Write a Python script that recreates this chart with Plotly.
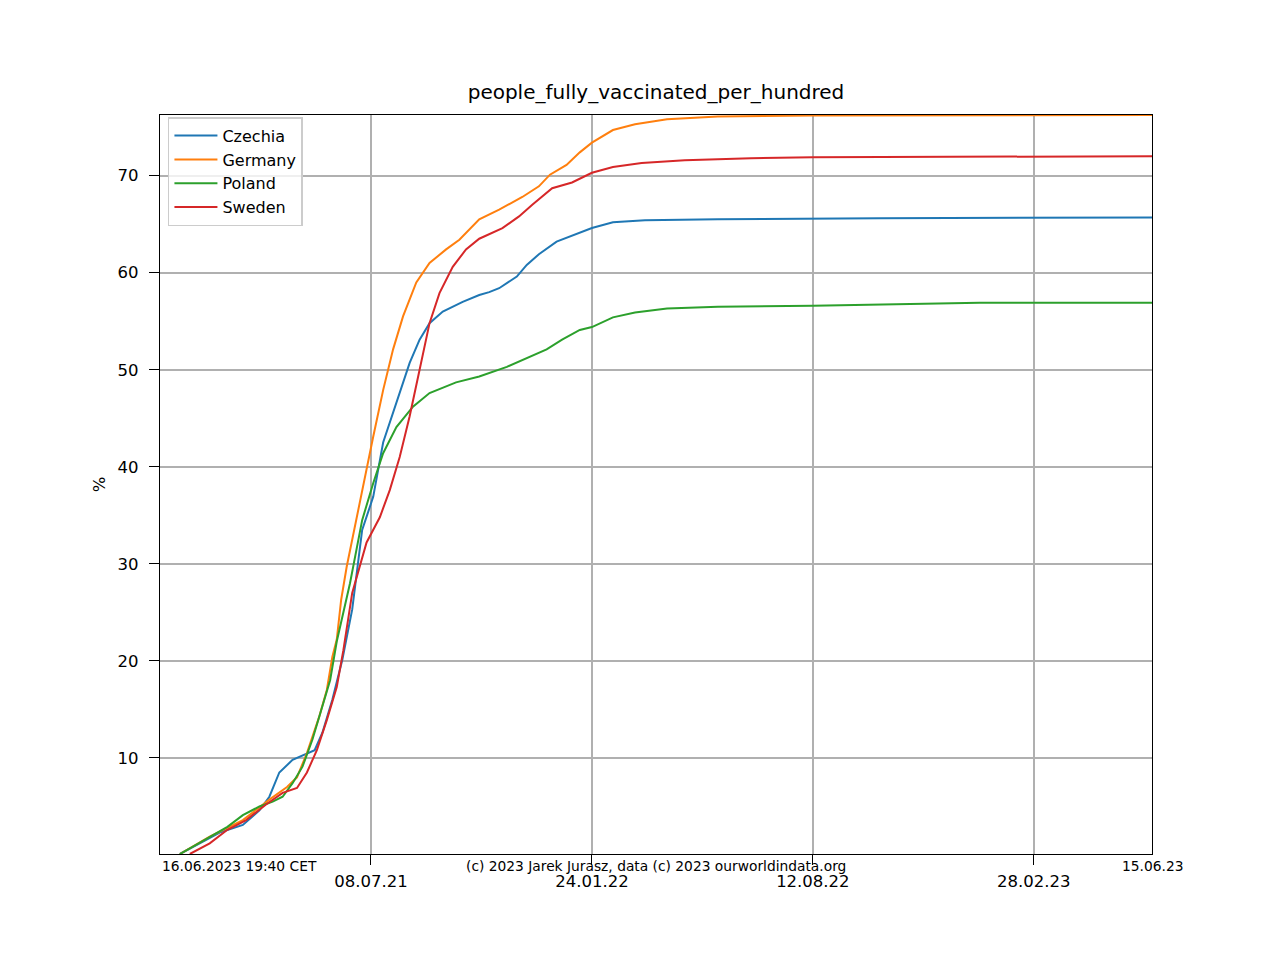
import plotly.graph_objects as go

TITLE = "people_fully_vaccinated_per_hundred"

cz_dates = ["2021-01-16", "2021-02-03", "2021-02-21", "2021-03-14", "2021-03-29", "2021-04-07",
            "2021-04-16", "2021-04-28", "2021-05-11", "2021-05-18", "2021-05-25", "2021-06-03",
            "2021-06-12", "2021-06-21", "2021-06-30", "2021-07-10", "2021-07-19", "2021-07-31",
            "2021-08-12", "2021-08-21", "2021-08-30", "2021-09-11", "2021-09-29", "2021-10-14",
            "2021-10-23", "2021-11-01", "2021-11-17", "2021-11-26", "2021-12-07", "2021-12-23",
            "2022-01-04", "2022-01-24", "2022-02-12", "2022-03-13", "2022-05-18", "2022-08-12",
            "2022-10-11", "2023-06-15"]
cz_vals = [0.1, 1.2, 2.3, 3.1, 4.6, 6.0, 8.5, 9.8, 10.5, 10.8, 12.6, 16.0, 20.1, 25.3, 33.5, 36.9,
           42.5, 46.6, 50.7, 53.1, 54.8, 56.0, 57.0, 57.7, 58.0, 58.4, 59.6, 60.8, 61.9, 63.2, 63.7,
           64.6, 65.2, 65.4, 65.5, 65.6, 65.6, 65.7]

de_dates = ["2021-01-16", "2021-02-12", "2021-03-14", "2021-04-07", "2021-04-23", "2021-05-02",
            "2021-05-11", "2021-05-22", "2021-05-29", "2021-06-03", "2021-06-07", "2021-06-11",
            "2021-06-16", "2021-06-25", "2021-07-04", "2021-07-10", "2021-07-19", "2021-07-28",
            "2021-08-06", "2021-08-18", "2021-08-30", "2021-09-14", "2021-09-26", "2021-10-14",
            "2021-11-01", "2021-11-22", "2021-12-07", "2021-12-17", "2022-01-01", "2022-01-13",
            "2022-01-24", "2022-02-12", "2022-03-04", "2022-04-02", "2022-05-18", "2022-08-12",
            "2023-06-15"]
de_vals = [0.1, 1.9, 3.6, 5.7, 7.0, 8.0, 10.5, 14.2, 17.0, 20.4, 22.2, 26.3, 29.7, 34.8, 39.7, 43.1,
           47.9, 52.1, 55.5, 59.0, 61.0, 62.4, 63.4, 65.5, 66.5, 67.8, 68.9, 70.1, 71.1, 72.4, 73.4,
           74.7, 75.3, 75.8, 76.1, 76.2, 76.25]

pl_dates = ["2021-01-16", "2021-02-06", "2021-02-28", "2021-03-14", "2021-03-29", "2021-04-10",
            "2021-04-19", "2021-04-28", "2021-05-07", "2021-05-16", "2021-05-25", "2021-06-01",
            "2021-06-07", "2021-06-16", "2021-06-19", "2021-06-30", "2021-07-10", "2021-07-19",
            "2021-07-31", "2021-08-15", "2021-08-30", "2021-09-23", "2021-10-14", "2021-11-08",
            "2021-11-28", "2021-12-14", "2021-12-28", "2022-01-13", "2022-01-24", "2022-02-12",
            "2022-03-04", "2022-04-02", "2022-05-18", "2022-08-12", "2023-01-10", "2023-06-15"]
pl_vals = [0.1, 1.5, 2.9, 4.1, 5.0, 5.5, 6.0, 7.4, 9.1, 11.9, 15.3, 18.0, 22.0, 26.5, 28.0, 34.5,
           38.3, 41.4, 44.1, 46.2, 47.6, 48.7, 49.3, 50.3, 51.3, 52.1, 53.1, 54.1, 54.4, 55.4, 55.9,
           56.3, 56.5, 56.6, 56.9, 56.9]

se_dates = ["2021-01-25", "2021-02-12", "2021-02-28", "2021-03-17", "2021-04-04", "2021-04-19",
            "2021-05-02", "2021-05-11", "2021-05-20", "2021-05-29", "2021-06-07", "2021-06-13",
            "2021-06-21", "2021-07-04", "2021-07-16", "2021-07-25", "2021-08-03", "2021-08-12",
            "2021-08-21", "2021-08-30", "2021-09-08", "2021-09-20", "2021-10-02", "2021-10-14",
            "2021-11-04", "2021-11-19", "2021-12-01", "2021-12-19", "2022-01-06", "2022-01-24",
            "2022-02-12", "2022-03-10", "2022-04-18", "2022-06-17", "2022-08-12", "2023-06-15"]
se_vals = [0.1, 1.2, 2.6, 3.6, 5.2, 6.4, 6.9, 8.5, 10.8, 13.9, 17.3, 21.1, 27.0, 32.2, 34.8, 37.6,
           41.0, 45.2, 50.0, 54.8, 57.9, 60.6, 62.4, 63.5, 64.6, 65.8, 67.0, 68.7, 69.3, 70.3, 70.9,
           71.3, 71.6, 71.8, 71.9, 72.0]

series = [
    ("Czechia", cz_dates, cz_vals, "#1f77b4"),
    ("Germany", de_dates, de_vals, "#ff7f0e"),
    ("Poland", pl_dates, pl_vals, "#2ca02c"),
    ("Sweden", se_dates, se_vals, "#d62728"),
]

tick_vals = ["2021-07-08", "2022-01-24", "2022-08-12", "2023-02-28"]
tick_text = ["08.07.21", "24.01.22", "12.08.22", "28.02.23"]
y_ticks = [10, 20, 30, 40, 50, 60, 70]
x_range = ["2020-12-29", "2023-06-15"]
y_range = [0.1, 76.25]

FONT = "DejaVu Sans"
W, H = 1272, 952  # page body has an 8px margin
ML, MR, MT, MB = 152, 128, 107, 106
PH = H - MT - MB

fig = go.Figure()
for name, d, v, c in series:
    fig.add_trace(go.Scatter(x=d, y=v, mode="lines", name=name,
                             line=dict(color=c, width=2)))

fig.update_layout(
    width=W, height=H,
    margin=dict(l=ML, r=MR, t=MT, b=MB, autoexpand=False),
    paper_bgcolor="white", plot_bgcolor="white",
    font=dict(family=FONT, size=16, color="black"),
    title=dict(text=TITLE, xref="paper", x=0.5, xanchor="center", y=1 - 84 / H, yanchor="middle",
               font=dict(size=20, family=FONT, color="black")),
    showlegend=True,
    legend=dict(x=0.008, y=0.997, xanchor="left", yanchor="top",
                bgcolor="rgba(255,255,255,0.8)", bordercolor="#cccccc", borderwidth=1.5,
                font=dict(size=16, family=FONT), tracegroupgap=0, itemwidth=43),
    xaxis=dict(type="date", range=x_range, tickmode="array", tickvals=tick_vals,
               ticktext=tick_text, showgrid=True, gridcolor="#b0b0b0", gridwidth=1.6,
               showline=True, linecolor="black", linewidth=1.3, mirror=True,
               ticks="outside", ticklen=10, tickcolor="black", tickwidth=1.3,
               ticklabelstandoff=2, zeroline=False,
               tickfont=dict(size=16.5, family=FONT)),
    yaxis=dict(range=y_range, tickmode="array", tickvals=y_ticks, showgrid=True,
               gridcolor="#b0b0b0", gridwidth=1.6, showline=True, linecolor="black",
               linewidth=1.3, mirror=True, ticks="outside", ticklen=10, tickcolor="black",
               tickwidth=1.3, zeroline=False, ticklabelstandoff=7,
               tickfont=dict(size=16.5, family=FONT),
               title=dict(text="%", font=dict(size=16.5, family=FONT), standoff=7)),
)

ann_y = -12 / PH
fig.add_annotation(text="16.06.2023 19:40 CET", xref="paper", yref="paper", x=0, y=ann_y,
                   xanchor="left", yanchor="middle", showarrow=False,
                   font=dict(size=13.8, family=FONT))
fig.add_annotation(text="(c) 2023 Jarek Jurasz, data (c) 2023 ourworldindata.org", xref="paper",
                   yref="paper", x=0.5, y=ann_y, xanchor="center", yanchor="middle",
                   showarrow=False, font=dict(size=13.8, family=FONT))
fig.add_annotation(text="15.06.23", xref="paper", yref="paper", x=1.0, y=ann_y,
                   xanchor="center", yanchor="middle", showarrow=False,
                   font=dict(size=13.8, family=FONT))

fig.write_html("out.html")
